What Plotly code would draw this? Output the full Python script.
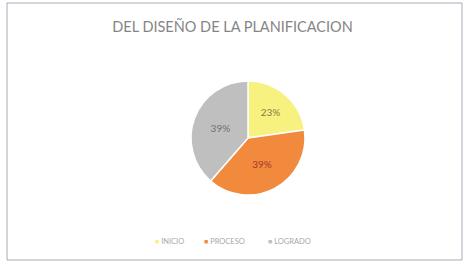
import plotly.graph_objects as go

categories = ["INICIO", "PROCESO", "LOGRADO"]
values = [23, 39, 39]
colors = ["#F7F280", "#F28A3E", "#BFBFBF"]
text_colors = ["#8a7a3a", "#a8342c", "#6f6f6f"]

W, H = 465, 264
cx, cy, r = 248, 138, 57

fig = go.Figure(go.Pie(
    labels=categories,
    values=values,
    sort=False,
    direction="clockwise",
    rotation=0,
    marker=dict(colors=colors, line=dict(color="white", width=1.5)),
    texttemplate="%{value}%",
    textposition="inside",
    insidetextorientation="horizontal",
    textfont=dict(family="Lato", size=10, color=text_colors),
    domain=dict(x=[(cx - r) / W, (cx + r) / W], y=[1 - (cy + r) / H, 1 - (cy - r) / H]),
    hoverinfo="label+percent",
    showlegend=False,
))

# compact legend (Excel-style) built from the category list
legend_x = [153, 202, 266]
annotations = []
for cat, col, lx in zip(categories, colors, legend_x):
    annotations.append(dict(
        xref="paper", yref="paper", x=lx / W, y=1 - 241 / H,
        xanchor="left", yanchor="middle", showarrow=False,
        text=f'<span style="color:{col};font-size:7px">■</span> {cat}',
        font=dict(family="Lato", size=7.5, color="#a8a8a8"),
    ))

fig.update_layout(
    width=W, height=H,
    margin=dict(l=0, r=0, t=0, b=0),
    paper_bgcolor="white",
    title=dict(text="DEL DISEÑO DE LA PLANIFICACION", x=0.5, xanchor="center",
               y=1 - 27 / H, yanchor="middle",
               font=dict(family="Lato", size=14.5, color="#858585")),
    annotations=annotations,
    shapes=[dict(type="rect", xref="paper", yref="paper",
                 x0=7 / W, x1=462 / W, y0=1 - 260 / H, y1=1 - 3 / H,
                 line=dict(color="#a9a9b8", width=1))],
)

fig.write_html("out.html", config={"displayModeBar": False},
               post_script="document.body.style.margin='0';document.body.style.overflow='hidden';")
